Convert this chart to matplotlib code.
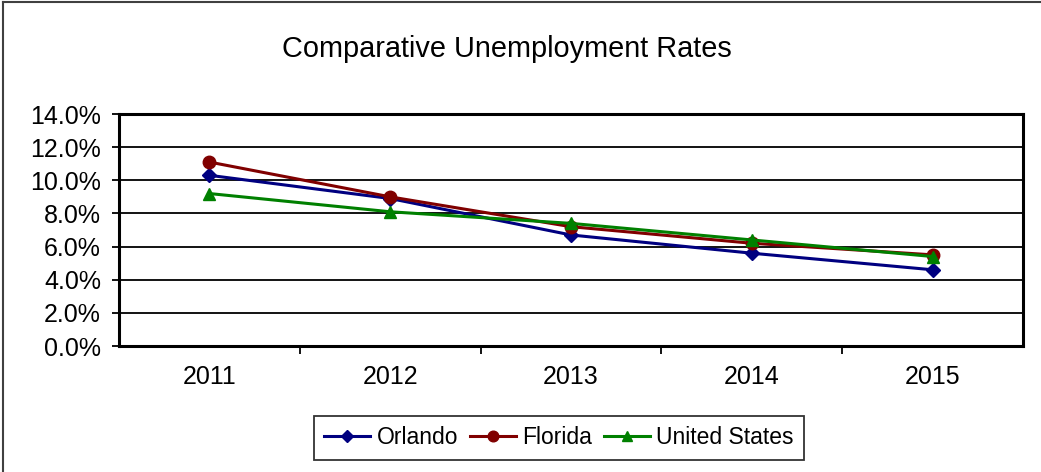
import matplotlib
matplotlib.use("Agg")
import matplotlib.pyplot as plt
from matplotlib.lines import Line2D
from matplotlib.ticker import PercentFormatter

years = ["2011", "2012", "2013", "2014", "2015"]
orlando = [10.3, 8.9, 6.7, 5.6, 4.6]
florida = [11.1, 9.0, 7.2, 6.2, 5.5]
united_states = [9.2, 8.1, 7.4, 6.4, 5.4]

plt.rcParams['font.family'] = ['Liberation Sans', 'DejaVu Sans']

fig = plt.figure(figsize=(10.41, 4.72), dpi=100)
ax = fig.add_axes([119 / 1041, 1 - 346 / 472, 904 / 1041, 232 / 472])

x = range(len(years))
ax.plot(x, orlando, color='#000080', lw=2.2, marker='D', ms=7, label='Orlando')
ax.plot(x, florida, color='#800000', lw=2.2, marker='o', ms=9, label='Florida')
ax.plot(x, united_states, color='#008000', lw=2.2, marker='^', ms=9, label='United States')

ax.set_xlim(-0.5, len(years) - 0.5)
ax.set_ylim(0, 14)
ax.set_yticks(range(0, 15, 2))
ax.yaxis.set_major_formatter(PercentFormatter(decimals=1))
ax.grid(axis='y', color='black', lw=1.3)
ax.set_axisbelow(True)

# ticks at category boundaries, labels at centers
ax.set_xticks([i + 0.5 for i in range(len(years) - 1)])
ax.set_xticklabels([])
ax.set_xticks(list(x), minor=True)
ax.set_xticklabels(years, minor=True)
ax.tick_params(axis='x', which='major', length=6, width=1.3, direction='out')
ax.tick_params(axis='x', which='minor', length=0, pad=14, labelsize=18)
ax.tick_params(axis='y', length=5, width=1.3, pad=8, labelsize=18)

for s in ax.spines.values():
    s.set_linewidth(2.2)
    s.set_color('black')

fig.suptitle("Comparative Unemployment Rates", x=507 / 1041, y=1 - 49 / 472,
             va='center', fontsize=20.8)

leg = fig.legend(loc='center', bbox_to_anchor=(559 / 1041, 1 - 438 / 472), ncol=3,
                 fontsize=16.5, frameon=True, fancybox=False, handlelength=2.0,
                 handletextpad=0.3, columnspacing=0.5, borderpad=0.45,
                 borderaxespad=0, markerscale=0.85)
leg.get_frame().set_edgecolor('black')
leg.get_frame().set_linewidth(1.3)

# outer chart border (left and top edges)
fig.add_artist(Line2D([3 / 1041, 3 / 1041], [0, 1 - 2 / 472], color='#404040', lw=1.5))
fig.add_artist(Line2D([3 / 1041, 1], [1 - 2 / 472, 1 - 2 / 472], color='#404040', lw=1.5))

fig.savefig("out.png", dpi=100)
